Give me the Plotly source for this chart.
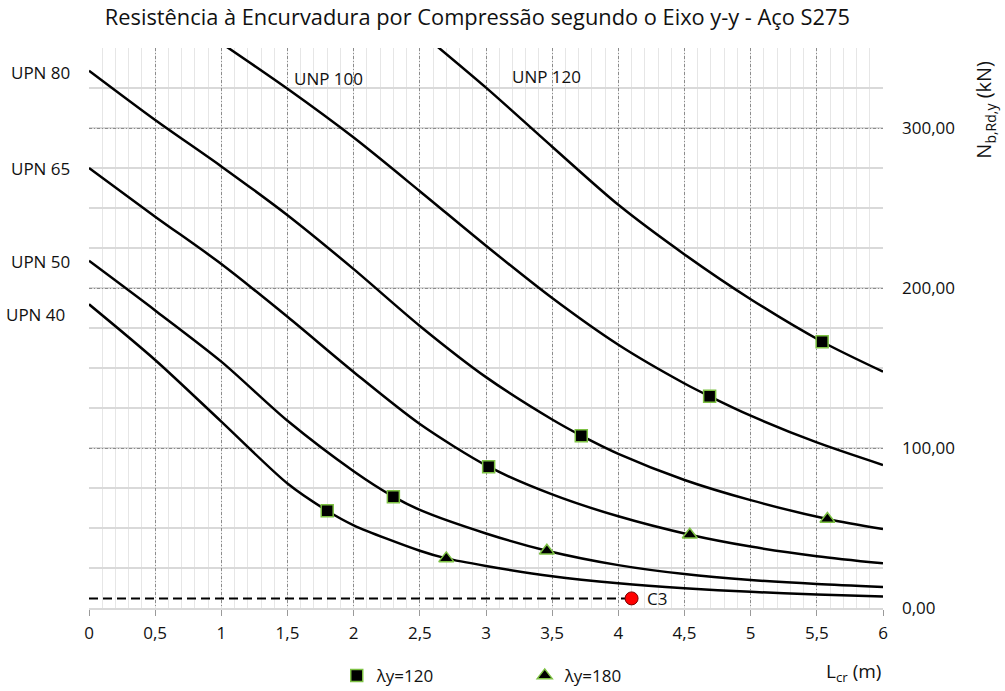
import plotly.graph_objects as go

# Buckling resistance curves N_b,Rd,y (kN) against buckling length Lcr (m)
lcr_upn40 = [0, 0.5, 1.0, 1.5, 1.8, 2.0, 2.5, 2.7, 3.0, 3.5, 4.0, 4.5, 5.0, 5.5, 6.0]
nb_upn40 = [189.8, 155.0, 116.5, 77.8, 60.8, 51.7, 35.8, 31.0, 26.3, 19.8, 15.4, 12.3, 10.1, 8.5, 7.2]

lcr_upn50 = [0, 0.5, 1.0, 1.5, 2.0, 2.3, 2.5, 3.0, 3.46, 4.0, 4.5, 5.0, 5.5, 6.0]
nb_upn50 = [217.0, 186.0, 154.0, 117.0, 85.5, 69.6, 61.3, 46.6, 35.8, 26.8, 21.2, 17.5, 15.0, 13.2]

lcr_upn65 = [0, 0.5, 1.0, 1.5, 2.0, 2.5, 3.02, 3.5, 4.0, 4.54, 5.0, 5.5, 6.0]
nb_upn65 = [275.0, 244.6, 215.0, 182.0, 147.5, 115.0, 88.3, 71.0, 57.3, 45.8, 38.4, 32.4, 27.9]

lcr_upn80 = [0, 0.5, 1.0, 1.5, 2.0, 2.5, 3.0, 3.5, 3.72, 4.0, 4.5, 5.0, 5.58, 6.0]
nb_upn80 = [335.8, 305.0, 276.0, 245.5, 211.8, 176.3, 144.3, 117.8, 107.7, 96.3, 80.0, 67.4, 55.6, 49.3]

lcr_unp100 = [1.0, 1.5, 2.0, 2.5, 3.0, 3.5, 4.0, 4.5, 4.69, 5.0, 5.5, 6.0]
nb_unp100 = [353.0, 324.5, 294.0, 260.5, 226.4, 193.7, 164.5, 140.3, 132.3, 120.2, 103.5, 89.4]

lcr_unp120 = [2.5, 3.0, 3.5, 4.0, 4.5, 5.0, 5.54, 6.0]
nb_unp120 = [360.0, 325.2, 288.3, 252.0, 221.0, 193.0, 166.4, 147.7]

# Slenderness markers
lcr_lambda120 = [1.80, 2.30, 3.02, 3.72, 4.69, 5.54]
nb_lambda120 = [60.8, 69.6, 88.3, 107.7, 132.3, 166.4]
lcr_lambda180 = [2.70, 3.46, 4.54, 5.58]
nb_lambda180 = [31.0, 35.8, 45.8, 55.6]

# Design point C3
c3_lcr = 4.1
c3_ned = 6.0

x_ticks = [0, 0.5, 1, 1.5, 2, 2.5, 3, 3.5, 4, 4.5, 5, 5.5, 6]
x_tick_labels = ["0", "0,5", "1", "1,5", "2", "2,5", "3", "3,5", "4", "4,5", "5", "5,5", "6"]
y_ticks = [0, 100, 200, 300]
y_tick_labels = ["0,00", "100,00", "200,00", "300,00"]

FONT = "Open Sans"
TXT = "#111111"
GREEN = "#7DC143"

fig = go.Figure()

curves = [
    ("UPN 40", lcr_upn40, nb_upn40),
    ("UPN 50", lcr_upn50, nb_upn50),
    ("UPN 65", lcr_upn65, nb_upn65),
    ("UPN 80", lcr_upn80, nb_upn80),
    ("UNP 100", lcr_unp100, nb_unp100),
    ("UNP 120", lcr_unp120, nb_unp120),
]
for name, xs, ys in curves:
    fig.add_trace(go.Scatter(
        x=xs, y=ys, mode="lines", name=name, showlegend=False,
        line=dict(color="black", width=2.5, shape="spline", smoothing=0.8),
        hoverinfo="x+y+name",
    ))

# Dashed reference line up to C3
fig.add_trace(go.Scatter(
    x=[0, c3_lcr], y=[c3_ned, c3_ned], mode="lines", showlegend=False,
    line=dict(color="black", width=2, dash="9px,5px"), hoverinfo="skip",
))

fig.add_trace(go.Scatter(
    x=lcr_lambda120, y=nb_lambda120, mode="markers", name="λy=120",
    marker=dict(symbol="square", size=12, color="black", line=dict(color=GREEN, width=1.5)),
))
fig.add_trace(go.Scatter(
    x=lcr_lambda180, y=nb_lambda180, mode="markers", name="λy=180",
    marker=dict(symbol="triangle-up", size=13, color="black", line=dict(color=GREEN, width=1.5)),
))
fig.add_trace(go.Scatter(
    x=[c3_lcr], y=[c3_ned], mode="markers", name="C3", showlegend=False,
    marker=dict(symbol="circle", size=13, color="#FF0000", line=dict(color="#7a0000", width=1)),
))

# Section labels beside the curves (left of the plot area)
section_labels = [
    dict(text="UPN 80", x=-0.0218, y=0.957),
    dict(text="UPN 65", x=-0.0218, y=0.784),
    dict(text="UPN 50", x=-0.0218, y=0.618),
    dict(text="UPN 40", x=-0.0272, y=0.525),
]
for a in section_labels:
    fig.add_annotation(xref="paper", yref="paper", showarrow=False, xanchor="right",
                       yanchor="middle", font=dict(family=FONT, size=17, color=TXT), **a)

inner_labels = [
    dict(text="UNP 100", x=1.533, y=331, xshift=0),
    dict(text="UNP 120", x=3.18, y=332.5, xshift=0),
    dict(text="C3", x=c3_lcr, y=c3_ned, xshift=13),
]
for a in inner_labels:
    fig.add_annotation(xref="x", yref="y", showarrow=False, xanchor="left",
                       yanchor="middle", font=dict(family=FONT, size=17, color=TXT), **a)

fig.add_annotation(xref="paper", yref="paper", x=1.1285, y=0.89, showarrow=False,
                   text="N<sub>b,Rd,y</sub> (kN)", textangle=-90,
                   xanchor="center", yanchor="middle",
                   font=dict(family=FONT, size=20, color=TXT))
fig.add_annotation(xref="paper", yref="paper", x=1.0, y=-0.114, showarrow=False,
                   text="L<sub>cr</sub> (m)", xanchor="right", yanchor="middle",
                   font=dict(family=FONT, size=19, color=TXT))

fig.update_layout(
    width=1005, height=691,
    margin=dict(l=89, r=122, t=48, b=83, autoexpand=False),
    paper_bgcolor="white", plot_bgcolor="white",
    font=dict(family=FONT, size=17, color=TXT),
    title=dict(text="Resistência à Encurvadura por Compressão segundo o Eixo y-y - Aço S275",
               x=0.475, xanchor="center", y=0.975, yanchor="middle",
               font=dict(family=FONT, size=21.8, color=TXT)),
    showlegend=True,
    legend=dict(orientation="h", x=0.312, xanchor="left", y=-0.089, yanchor="top",
                font=dict(family=FONT, size=17, color=TXT),
                entrywidth=143, entrywidthmode="pixels", bgcolor="rgba(0,0,0,0)"),
    xaxis=dict(
        range=[0, 6], tickmode="array", tickvals=x_ticks, ticktext=x_tick_labels,
        showgrid=True, gridcolor="#8C8C8C", gridwidth=1, griddash="3px,2px,1px,2px",
        minor=dict(dtick=0.1, tick0=0, showgrid=True, gridcolor="#E6E6E6", gridwidth=1,
                   griddash="solid"),
        showline=True, linecolor="#D9D9D9", linewidth=2,
        ticks="outside", ticklen=6, tickcolor="#9A9A9A", tickwidth=1,
        ticklabelstandoff=3, zeroline=False,
        tickfont=dict(family=FONT, size=17, color=TXT),
    ),
    yaxis=dict(
        range=[0, 350], side="right", tickmode="array", tickvals=y_ticks, ticktext=y_tick_labels,
        showgrid=True, gridcolor="#8C8C8C", gridwidth=1, griddash="3px,2px,1px,2px",
        minor=dict(dtick=25, tick0=0, showgrid=True, gridcolor="#D9D9D9", gridwidth=1.5,
                   griddash="solid"),
        showline=False, ticks="", ticklabelstandoff=18, zeroline=False,
        tickfont=dict(family=FONT, size=17, color=TXT),
    ),
)

fig.write_html("out.html")
